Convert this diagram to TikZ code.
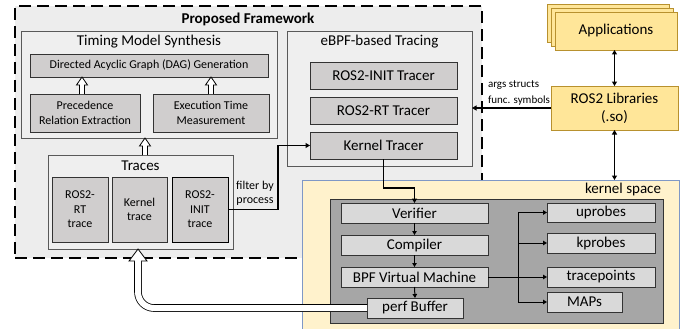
\documentclass[tikz,border=0pt]{standalone}
\usepackage{fontspec}
\setmainfont{Carlito}
\usetikzlibrary{arrows.meta,calc}
\definecolor{framefill}{HTML}{EDEDED}
\definecolor{panelfill}{HTML}{EFEFEF}
\definecolor{panelline}{HTML}{595959}
\definecolor{boxfill}{HTML}{D0CECE}
\definecolor{kspfill}{HTML}{FFF2CC}
\definecolor{kspline}{HTML}{7F98C6}
\definecolor{kgray}{HTML}{A6A6A6}
\definecolor{kbox}{HTML}{D9D9D9}
\definecolor{appfill}{HTML}{FFE699}
\definecolor{appline}{HTML}{B8912E}
\newcommand\hollowarrow[2]{%
  \draw[hollow] ($(#1)+(-2.5,0)$) -- ($(#2)+(-2.5,8)$) -- ($(#2)+(-5.5,8)$) -- (#2)
    -- ($(#2)+(5.5,8)$) -- ($(#2)+(2.5,8)$) -- ($(#1)+(2.5,0)$);}
\begin{document}
\begin{tikzpicture}[x=1pt,y=-1pt,
  every node/.style={inner sep=0pt,outer sep=0pt},
  sz/.style 2 args={minimum width=#1pt,minimum height=#2pt},
  bigf/.style={font=\fontsize{15}{18}\selectfont},
  midf/.style={font=\fontsize{12}{14.5}\selectfont},
  smallf/.style={font=\fontsize{11}{13}\selectfont},
  panel/.style={draw=panelline,fill=panelfill,line width=0.9pt,anchor=north west},
  gbox/.style={draw=black!80,fill=boxfill,line width=0.9pt,anchor=north west,align=center},
  kb/.style={draw=black!80,fill=kbox,line width=0.9pt,anchor=north west,align=center,bigf},
  appbox/.style={draw=appline,fill=appfill,line width=0.9pt,anchor=north west,align=center,bigf},
  conn/.style={line width=1.3pt,-{Triangle[length=4.5pt,width=5pt]}},
  connboth/.style={line width=1.3pt,{Triangle[length=4.5pt,width=5pt]}-{Triangle[length=4.5pt,width=5pt]}},
  thinconn/.style={line width=1pt,-{Triangle[length=4pt,width=4.5pt]}},
  hollow/.style={draw=black,fill=white,line width=0.8pt},
]
\useasboundingbox (0,0) rectangle (685,329);

% Proposed framework
\node[draw=black,fill=framefill,line width=1.5pt,dash pattern=on 12pt off 6pt,anchor=north west,sz={467}{252}] (frame) at (15,6) {};
\node[font=\bfseries\fontsize{15}{18}\selectfont] (frametitle) at (248,19) {Proposed Framework};

% Timing model synthesis
\node[panel,sz={256}{107}] (tms) at (21,31) {};
\node[bigf] (tmst) at (149,42) {Timing Model Synthesis};
\node[gbox,midf,sz={238}{23}] (dag) at (30,54) {Directed Acyclic Graph (DAG) Generation};
\node[gbox,midf,sz={110}{38}] (prec) at (30,94) {Precedence\\Relation Extraction};
\node[gbox,midf,sz={116}{38}] (exec) at (153,94) {Execution Time\\Measurement};

% Traces
\node[panel,sz={185}{94}] (traces) at (48,155) {};
\node[bigf] (tracest) at (140.5,166) {Traces};
\node[gbox,midf,sz={56}{65}] (rttr) at (52,177) {ROS2-\\RT\\trace};
\node[gbox,midf,sz={55}{65}] (ktr) at (112,177) {Kernel\\trace};
\node[gbox,midf,sz={56}{65},draw=black,line width=1pt] (inittr) at (172,177) {ROS2-\\INIT\\trace};

% eBPF-based tracing
\node[panel,sz={185}{135}] (ebpf) at (287,31) {};
\node[bigf] (ebpft) at (379.5,42) {eBPF-based Tracing};
\node[gbox,bigf,sz={147}{27}] (initt) at (310,62) {ROS2-INIT Tracer};
\node[gbox,bigf,sz={147}{27}] (rtt) at (310,97) {ROS2-RT Tracer};
\node[gbox,bigf,sz={147}{27}] (kt) at (310,132) {Kernel Tracer};

% Applications and libraries
\node[appbox,sz={122}{38}] (app3) at (547,4) {};
\node[appbox,sz={122}{38}] (app2) at (551,8) {};
\node[appbox,sz={122}{38}] (apps) at (555,12) {Applications};
\node[appbox,sz={127}{44}] (libs) at (551,86) {ROS2 Libraries\\(.so)};

% Kernel space
\node[draw=kspline,fill=kspfill,line width=1pt,anchor=north west,sz={377}{155}] (ksp) at (302,180) {};
\node[bigf,anchor=east] (kspt) at (661,189) {kernel space};
\node[draw=black!80,fill=kgray,line width=1pt,anchor=north west,sz={333}{124}] (kg) at (330,199) {};
\node[kb,sz={147}{20}] (ver) at (341,203) {Verifier};
\node[kb,sz={147}{20}] (comp) at (341,235) {Compiler};
\node[kb,sz={147}{20}] (vm) at (341,267) {BPF Virtual Machine};
\node[kb,sz={96}{20}] (perf) at (367,298) {perf Buffer};
\node[kb,sz={108}{19}] (up) at (547,203) {uprobes};
\node[kb,sz={108}{20}] (kp) at (547,233) {kprobes};
\node[kb,sz={108}{20}] (tp) at (547,267) {tracepoints};
\node[kb,sz={75}{20}] (maps) at (547,292) {MAPs};

% connectors
\coordinate (fb) at ($(inittr.east)+(50,0)$);
\draw[conn] (inittr.east) -- (fb) |- (kt.west);
\node[midf,align=center] (fbl) at (255,193.5) {filter by\\process};

\draw[conn] (kt.south) -- ++(0,29) -| (ver.north);
\draw[thinconn] (ver.south) -- (comp.north);
\draw[thinconn] (comp.south) -- (vm.north);
\draw[thinconn] (vm.south) -- (perf.north);
\coordinate (br) at ($(vm.east)+(30,0)$);
\draw[line width=1pt] (vm.east) -- (br);
\draw[thinconn] (br) |- (up.west);
\draw[thinconn] (br) |- (kp.west);
\draw[thinconn] (br) -- (tp.west);
\draw[thinconn] (br) |- (maps.west);

\draw[conn] (libs.west) -- (libs.west -| ebpf.east);
\node[smallf,anchor=west] (argsl) at (488,85) {args structs};
\node[smallf,anchor=west] (funcl) at (488,101) {func. symbols};
\draw[connboth] (libs.north) -- (libs.north |- apps.south);
\draw[connboth] (libs.south) -- (libs.south |- ksp.north);

% hollow arrows
\coordinate (a1) at ($(prec.north)+(-3,0)$);
\coordinate (a1t) at (a1 |- dag.south);
\hollowarrow{a1}{a1t}
\coordinate (a2) at (exec.north);
\coordinate (a2t) at (a2 |- dag.south);
\hollowarrow{a2}{a2t}
\coordinate (a3) at ($(traces.north)+(4.5,0)$);
\coordinate (a3t) at (a3 |- tms.south);
\hollowarrow{a3}{a3t}

\coordinate (bt) at ($(traces.south)+(-2.5,0)$);
\coordinate (bc) at (bt |- perf.west);
\draw[line width=0.8pt,double=white,double distance=6pt,rounded corners=16pt] (perf.west) -- (bc) -- ($(bt)+(0,12)$);
\draw[hollow] ($(bt)+(-9,12)$) -- (bt) -- ($(bt)+(9,12)$) -- cycle;
\draw[white,line width=5.6pt] ($(bt)+(0,11)$) -- ($(bt)+(0,13)$);
\end{tikzpicture}
\end{document}
